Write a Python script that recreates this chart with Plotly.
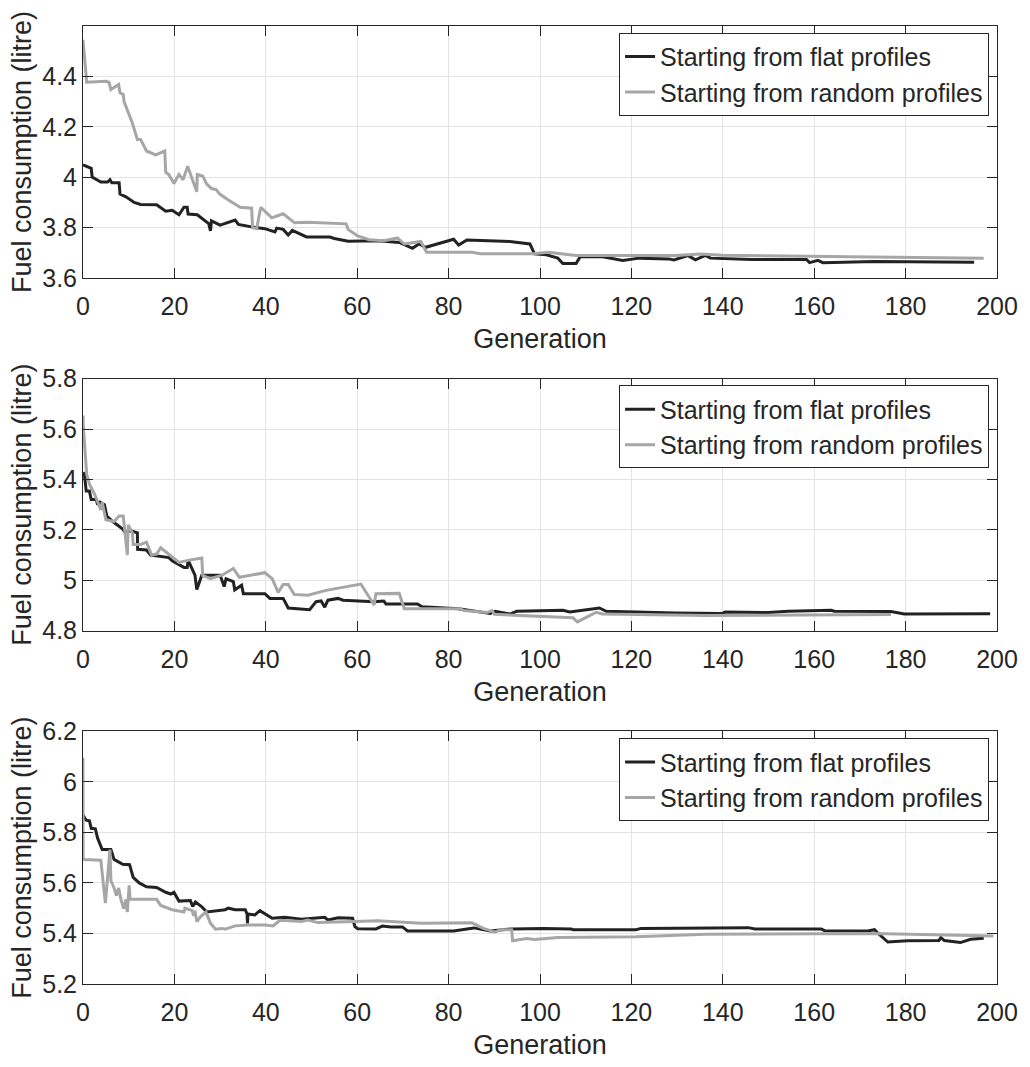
import plotly.graph_objects as go

# ---------------- data ----------------
p1_flat_gen = [0, 1.1, 1.8, 2.0, 3.9, 5.4, 5.9, 6.3, 7.9, 8.1, 9.4, 11.2, 12.6, 16.1, 18.1, 19.5, 21.0, 22.1, 22.8, 23.0,
               25.0, 27.5, 27.9, 28.1, 30.0, 33.3, 34.0, 36.9, 39.8, 42.0, 42.4, 43.8, 44.9, 45.8, 48.9, 54.0, 55.0, 58.0,
               64.5, 69.2, 72.1, 73.5, 75.0, 81.1, 82.2, 84.0, 93.4, 97.8, 98.8, 101.4, 103.9, 105.0, 107.9, 108.8, 113.7,
               118.1, 121.7, 128.2, 129.3, 132.4, 134.0, 136.2, 137.3, 146.3, 158.3, 159.0, 160.8, 161.9, 173.2, 195.0]
p1_flat_val = [4.049, 4.040, 4.035, 4.001, 3.981, 3.981, 3.990, 3.978, 3.978, 3.933, 3.922, 3.900, 3.892, 3.891, 3.865,
               3.869, 3.851, 3.881, 3.881, 3.854, 3.851, 3.816, 3.787, 3.827, 3.810, 3.830, 3.813, 3.803, 3.796, 3.783,
               3.798, 3.793, 3.771, 3.789, 3.763, 3.763, 3.757, 3.746, 3.748, 3.741, 3.718, 3.735, 3.722, 3.754, 3.731,
               3.751, 3.745, 3.735, 3.696, 3.692, 3.679, 3.658, 3.658, 3.685, 3.684, 3.670, 3.679, 3.676, 3.672, 3.689,
               3.672, 3.690, 3.679, 3.674, 3.674, 3.661, 3.670, 3.661, 3.666, 3.663]

p1_rand_gen = [0, 0.8, 5.0, 5.7, 6.1, 7.8, 8.1, 8.8, 9.0, 10.8, 11.9, 12.6, 13.9, 15.9, 17.9, 18.1, 18.8, 19.9, 21.0, 21.9,
               22.9, 24.9, 25.0, 26.2, 27.0, 28.1, 29.1, 30.0, 31.8, 34.4, 36.9, 37.1, 38.0, 38.9, 41.3, 43.8, 46.3, 49.2,
               57.6, 58.0, 60.1, 62.6, 65.9, 68.8, 70.3, 73.9, 75.2, 85.1, 86.9, 98.5, 101.8, 107.9, 129.7, 135.1, 140.0,
               197.1]
p1_rand_val = [4.545, 4.377, 4.381, 4.377, 4.348, 4.368, 4.335, 4.328, 4.299, 4.215, 4.150, 4.150, 4.104, 4.089, 4.104,
               4.020, 4.010, 3.975, 4.011, 3.990, 4.044, 3.942, 4.011, 4.005, 3.975, 3.955, 3.951, 3.932, 3.910, 3.881,
               3.877, 3.800, 3.796, 3.881, 3.839, 3.855, 3.819, 3.821, 3.815, 3.793, 3.767, 3.752, 3.748, 3.759, 3.735,
               3.745, 3.702, 3.702, 3.696, 3.696, 3.702, 3.689, 3.689, 3.695, 3.690, 3.679]

p2_flat_gen = [0, 0.3, 0.7, 1.4, 1.8, 2.9, 3.2, 3.7, 4.7, 5.2, 6.5, 8.7, 9.2, 10.5, 11.9, 11.95, 13.9, 14.8, 18.8, 19.5,
               22.1, 22.8, 23.0, 23.7, 24.5, 24.9, 26.0, 26.8, 30.0, 30.5, 30.9, 31.3, 32.9, 33.2, 34.7, 35.1, 39.8, 40.9,
               43.8, 44.9, 49.6, 51.0, 52.1, 52.9, 53.6, 55.8, 56.9, 63.7, 65.8, 66.3, 70.3, 73.2, 74.2, 82.2, 89.1, 90.2,
               93.4, 94.9, 105.0, 106.5, 113.0, 114.5, 129.7, 139.8, 140.5, 150.0, 154.3, 163.7, 164.4, 176.8, 179.7, 198.5]
p2_flat_val = [5.428, 5.421, 5.354, 5.354, 5.320, 5.320, 5.300, 5.310, 5.300, 5.255, 5.233, 5.203, 5.190, 5.196, 5.188,
               5.123, 5.120, 5.100, 5.090, 5.077, 5.051, 5.051, 5.080, 5.051, 5.020, 4.963, 5.020, 5.020, 5.020, 4.995,
               4.975, 5.006, 4.995, 4.962, 4.980, 4.947, 4.947, 4.928, 4.928, 4.890, 4.883, 4.915, 4.918, 4.893, 4.921,
               4.928, 4.921, 4.915, 4.918, 4.906, 4.906, 4.906, 4.895, 4.887, 4.868, 4.877, 4.866, 4.877, 4.881, 4.874,
               4.890, 4.877, 4.870, 4.868, 4.874, 4.872, 4.877, 4.881, 4.877, 4.876, 4.866, 4.867]

p2_rand_gen = [0, 0.05, 0.8, 1.4, 2.5, 3.4, 3.9, 4.2, 4.7, 5.0, 6.8, 7.9, 8.8, 9.2, 9.7, 9.9, 10.8, 10.98, 12.6, 13.9,
               15.0, 16.1, 17.0, 21.0, 23.2, 26.0, 26.2, 27.9, 30.4, 32.9, 34.2, 39.8, 41.4, 42.7, 43.8, 44.9, 46.2, 49.2,
               53.2, 60.8, 63.7, 64.1, 69.2, 70.3, 82.6, 83.3, 88.4, 89.5, 90.0, 107.2, 108.2, 112.3, 113.7, 136.2, 176.8]
p2_rand_val = [5.654, 5.615, 5.421, 5.382, 5.343, 5.304, 5.279, 5.310, 5.265, 5.240, 5.233, 5.255, 5.255, 5.188, 5.100,
               5.220, 5.188, 5.142, 5.142, 5.151, 5.100, 5.104, 5.129, 5.071, 5.080, 5.088, 5.019, 5.006, 5.020, 5.047,
               5.012, 5.030, 5.006, 4.952, 4.983, 4.983, 4.944, 4.941, 4.960, 4.985, 4.902, 4.947, 4.948, 4.887, 4.887,
               4.880, 4.872, 4.880, 4.865, 4.851, 4.835, 4.873, 4.866, 4.860, 4.864]

p3_flat_gen = [0, 0.7, 1.4, 1.8, 2.7, 3.2, 4.2, 6.1, 6.8, 7.5, 8.7, 10.2, 10.98, 12.3, 13.9, 16.1, 18.1, 19.2, 19.9, 21.0,
               23.5, 24.0, 24.6, 26.0, 27.1, 31.1, 31.8, 33.3, 35.5, 35.9, 35.99, 36.1, 37.6, 38.7, 39.8, 41.4, 44.2, 47.8,
               52.9, 53.6, 55.8, 59.0, 59.5, 60.1, 64.1, 65.5, 67.4, 69.9, 71.0, 81.1, 85.5, 89.1, 93.8, 100.7, 106.8,
               107.2, 121.0, 122.1, 145.6, 147.0, 161.5, 162.3, 171.7, 173.2, 174.0, 176.1, 180.4, 187.3, 187.7, 188.5,
               192.0, 194.2, 197.1]
p3_flat_val = [5.868, 5.848, 5.846, 5.816, 5.814, 5.777, 5.732, 5.732, 5.693, 5.687, 5.674, 5.672, 5.622, 5.600, 5.585,
               5.582, 5.563, 5.556, 5.563, 5.528, 5.530, 5.507, 5.525, 5.505, 5.485, 5.494, 5.500, 5.494, 5.494, 5.477,
               5.440, 5.477, 5.473, 5.490, 5.477, 5.460, 5.464, 5.456, 5.464, 5.453, 5.462, 5.460, 5.427, 5.419, 5.418,
               5.429, 5.426, 5.426, 5.410, 5.410, 5.422, 5.410, 5.418, 5.420, 5.418, 5.415, 5.415, 5.420, 5.423, 5.418,
               5.418, 5.411, 5.410, 5.415, 5.400, 5.366, 5.371, 5.372, 5.384, 5.372, 5.364, 5.377, 5.381]

p3_rand_gen = [0, 0.02, 3.9, 4.3, 4.9, 5.9, 6.1, 6.8, 7.3, 7.8, 8.3, 8.9, 9.4, 9.7, 10.1, 10.3, 16.1, 17.0, 19.5, 22.1,
               22.3, 23.9, 24.2, 24.5, 24.9, 25.7, 26.9, 27.9, 29.0, 30.4, 31.1, 33.3, 36.2, 39.8, 41.6, 43.1, 47.8, 49.2,
               51.4, 59.4, 64.5, 73.9, 85.1, 87.6, 90.2, 91.3, 93.8, 94.0, 97.1, 98.8, 103.9, 121.0, 136.2, 173.2, 199.2]
p3_rand_val = [6.095, 5.693, 5.690, 5.609, 5.520, 5.732, 5.609, 5.580, 5.550, 5.580, 5.535, 5.498, 5.535, 5.485, 5.590,
               5.535, 5.535, 5.511, 5.494, 5.485, 5.500, 5.490, 5.470, 5.490, 5.447, 5.466, 5.485, 5.440, 5.417, 5.420,
               5.417, 5.430, 5.433, 5.433, 5.430, 5.452, 5.447, 5.453, 5.443, 5.447, 5.450, 5.440, 5.442, 5.420, 5.405,
               5.415, 5.415, 5.371, 5.380, 5.376, 5.384, 5.387, 5.397, 5.400, 5.390]

series_names = ["Starting from flat profiles", "Starting from random profiles"]
x_ticks = [0, 20, 40, 60, 80, 100, 120, 140, 160, 180, 200]
y_ticks = [
    [3.6, 3.8, 4.0, 4.2, 4.4],
    [4.8, 5.0, 5.2, 5.4, 5.6, 5.8],
    [5.2, 5.4, 5.6, 5.8, 6.0, 6.2],
]
y_ranges = [[3.6, 4.6], [4.8, 5.8], [5.2, 6.2]]

panels = [
    (p1_flat_gen, p1_flat_val, p1_rand_gen, p1_rand_val),
    (p2_flat_gen, p2_flat_val, p2_rand_gen, p2_rand_val),
    (p3_flat_gen, p3_flat_val, p3_rand_gen, p3_rand_val),
]
for a, b, c, d in panels:
    assert len(a) == len(b), (len(a), len(b))
    assert len(c) == len(d), (len(c), len(d))

# ---------------- style ----------------
FONT = "Liberation Sans, Arial, Helvetica, sans-serif"
TXT = "#262626"
BLACK = "#222222"
GRAY = "#a6a6a6"
GRID = "#e3e3e3"

W, H = 1030, 1067
ML, MR, MT, MB = 83, 26, 19, 70
PH = H - MT - MB

def frac(py):
    return (H - MB - py) / PH

domains = [
    [frac(276.3), 1.0],
    [frac(636.3), frac(379.0)],
    [0.0, frac(739.0)],
]
legend_tops = [frac(26), frac(386), frac(746)]

def fmt(v):
    s = ("%.1f" % v)
    return s[:-2] if s.endswith(".0") else s

fig = go.Figure()
layout = dict(
    width=W, height=H,
    margin=dict(l=ML, r=MR, t=MT, b=MB),
    paper_bgcolor="white", plot_bgcolor="white",
    font=dict(family=FONT, color=TXT, size=25),
    showlegend=True,
)

for i, (fg, fv, rg, rv) in enumerate(panels):
    n = "" if i == 0 else str(i + 1)
    leg = "legend" + n
    fig.add_trace(go.Scatter(x=fg, y=fv, mode="lines", name=series_names[0],
                             line=dict(color=BLACK, width=3), xaxis="x" + n, yaxis="y" + n,
                             legend=leg))
    fig.add_trace(go.Scatter(x=rg, y=rv, mode="lines", name=series_names[1],
                             line=dict(color=GRAY, width=3), xaxis="x" + n, yaxis="y" + n,
                             legend=leg))
    layout["xaxis" + n] = dict(
        domain=[0, 1], anchor="y" + n, range=[0, 200],
        tickvals=x_ticks, ticktext=[str(t) for t in x_ticks],
        ticks="inside", ticklen=10, tickcolor=TXT, tickwidth=1,
        showline=True, linecolor=TXT, linewidth=1, mirror="ticks",
        showgrid=True, gridcolor=GRID, gridwidth=1, zeroline=False,
        tickfont=dict(size=25, color=TXT), ticklabelstandoff=6,
        title=dict(text="Generation", font=dict(size=27, color=TXT), standoff=10),
    )
    layout["yaxis" + n] = dict(
        domain=domains[i], anchor="x" + n, range=y_ranges[i],
        tickvals=y_ticks[i], ticktext=[fmt(t) for t in y_ticks[i]],
        ticks="inside", ticklen=10, tickcolor=TXT, tickwidth=1,
        showline=True, linecolor=TXT, linewidth=1, mirror="ticks",
        showgrid=True, gridcolor=GRID, gridwidth=1, zeroline=False,
        tickfont=dict(size=25, color=TXT),
        title=dict(text="Fuel consumption (litre)", font=dict(size=27, color=TXT), standoff=2),
    )
    layout[leg] = dict(
        x=(996 - ML) / (W - ML - MR), xanchor="right",
        y=legend_tops[i], yanchor="top", yref="paper",
        bgcolor="white", bordercolor=TXT, borderwidth=1,
        font=dict(size=25, color=TXT), tracegroupgap=0,
    )

fig.update_layout(**layout)
fig.write_html("out.html")
